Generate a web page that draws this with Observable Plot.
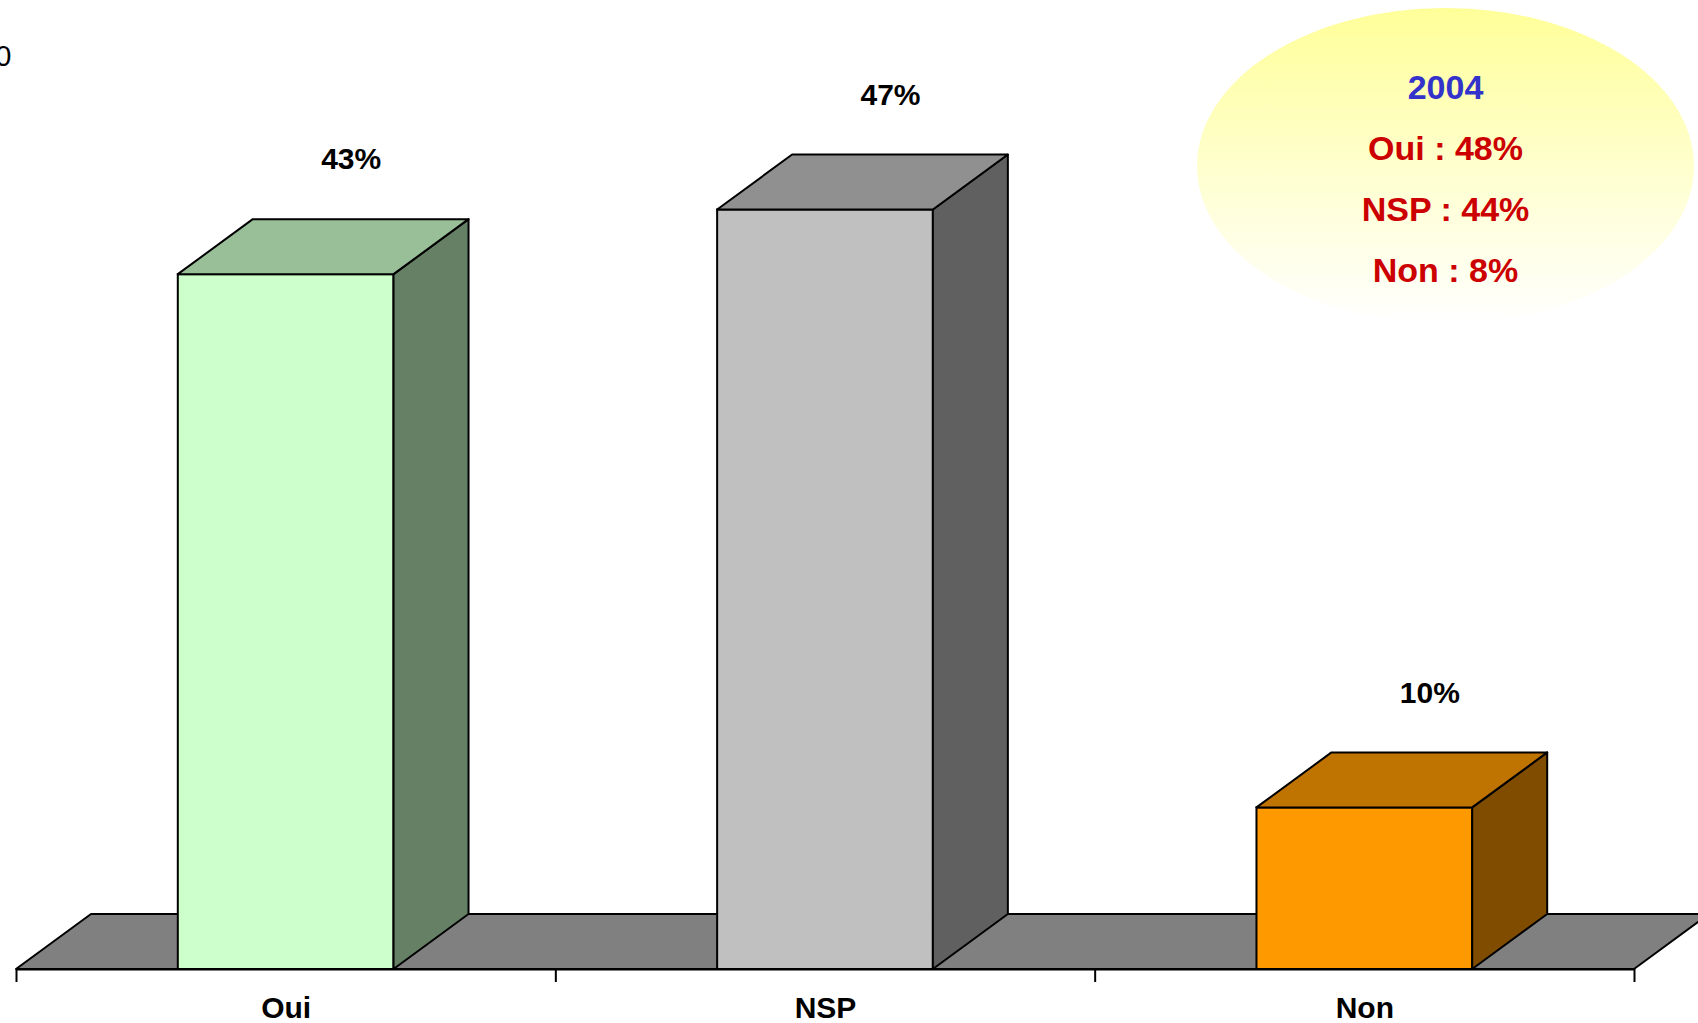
<!DOCTYPE html>
<html><head><meta charset="utf-8">
<script src="https://cdn.jsdelivr.net/npm/d3@7"></script>
<script src="https://cdn.jsdelivr.net/npm/@observablehq/plot@0.6"></script>
<style>
html,body{margin:0;padding:0;background:#fff;}
#wrap{position:relative;width:1698px;height:1023px;overflow:hidden;font-family:"Liberation Sans",Arial,sans-serif;}
#bubble{position:absolute;left:1197px;top:8px;width:497px;height:316px;border-radius:50%;
  background:linear-gradient(to bottom,#ffff99 0%,#ffffdd 65%,#ffffff 100%);
  text-align:center;font-weight:bold;font-size:34px;line-height:61px;padding-top:49px;box-sizing:border-box;}
#bubble .yr{color:#3333cc;}
#bubble .ln{color:#cc0000;}
</style></head>
<body>
<div id="wrap"><div id="chart"></div><div id="bubble"></div></div>
<script>
const categories = ["Oui", "NSP", "Non"];
const values = [43, 47, 10];
const frontColors = ["#ccffcc", "#c0c0c0", "#ff9900"];
const sideColors = ["#668066", "#606060", "#804c00"];
const topColors = ["#99bf99", "#909090", "#bf7300"];
const xTicks = [0, 1, 2, 3];
const yTopLabel = "50";
const noteYear = "2004";
const noteLines = ["Oui : 48%", "NSP : 44%", "Non : 8%"];

const W = 1698, H = 1023;
const xRange = [16, 1634], xDomain = [0, categories.length];
const yRange = [969, 56], yDomain = [0, 56.5];
const pxX = (xRange[1] - xRange[0]) / (xDomain[1] - xDomain[0]);
const pxY = (yRange[0] - yRange[1]) / (yDomain[1] - yDomain[0]);
const ddx = 75 / pxX, ddy = 55 / pxY;   // 3D depth offset in data units
const inset = 0.3;

const rows = categories.map((c, i) => ({cat: c, i, v: values[i]}));
const sidePts = rows.flatMap(d => [
  {i: d.i, x: d.i + 1 - inset, y1: 0, y2: d.v},
  {i: d.i, x: d.i + 1 - inset + ddx, y1: ddy, y2: d.v + ddy}
]);
const topPts = rows.flatMap(d => [
  {i: d.i, x1: d.i + inset, x2: d.i + 1 - inset, y: d.v},
  {i: d.i, x1: d.i + inset + ddx, x2: d.i + 1 - inset + ddx, y: d.v + ddy}
]);
const floorPts = [
  {x1: xDomain[0], x2: xDomain[1], y: 0},
  {x1: xDomain[0] + ddx, x2: xDomain[1] + ddx, y: ddy}
];

const chart = Plot.plot({
  width: W, height: H,
  x: {type: "linear", domain: xDomain, range: xRange, axis: null},
  y: {type: "linear", domain: yDomain, range: yRange, axis: null},
  color: {type: "identity"},
  style: {fontFamily: "Liberation Sans, Arial, sans-serif", background: "#fff", color: "#000", overflow: "visible"},
  marks: [
    Plot.area(floorPts, {x1: "x1", x2: "x2", y1: "y", y2: "y", fill: "#808080", stroke: "#000", strokeWidth: 2}),
    Plot.rect(rows, {x1: d => d.i + inset, x2: d => d.i + 1 - inset, y1: 0, y2: "v",
      fill: d => frontColors[d.i], stroke: "#000", strokeWidth: 2}),
    Plot.area(sidePts, {x1: "x", x2: "x", y1: "y1", y2: "y2", z: "i",
      fill: d => sideColors[d.i], stroke: "#000", strokeWidth: 2, strokeLinejoin: "round"}),
    Plot.area(topPts, {x1: "x1", x2: "x2", y1: "y", y2: "y", z: "i",
      fill: d => topColors[d.i], stroke: "#000", strokeWidth: 2, strokeLinejoin: "round"}),
    Plot.ruleY([0], {x1: xDomain[0], x2: xDomain[1], stroke: "#000", strokeWidth: 2}),
    Plot.ruleX(xTicks, {x: d => d, y1: 0, y2: -13 / pxY, stroke: "#000", strokeWidth: 2}),
    Plot.text(rows, {x: d => d.i + 0.5, y: 0, text: "cat", dy: 39, fontSize: 30, fontWeight: "bold", fill: "#000"}),
    Plot.text(rows, {x: d => d.i + 0.5, y: "v", text: d => d.v + "%", dx: 65, dy: -115, fontSize: 30, fontWeight: "bold", fill: "#000"}),
    Plot.text([yTopLabel], {x: xDomain[0], y: yDomain[1], text: d => d, textAnchor: "end", dx: -5, fontSize: 29, fill: "#000"})
  ]
});
document.getElementById("chart").appendChild(chart);

const bubble = document.getElementById("bubble");
const yr = document.createElement("div"); yr.className = "yr"; yr.textContent = noteYear; bubble.appendChild(yr);
noteLines.forEach(t => { const el = document.createElement("div"); el.className = "ln"; el.textContent = t; bubble.appendChild(el); });
</script>
</body></html>
